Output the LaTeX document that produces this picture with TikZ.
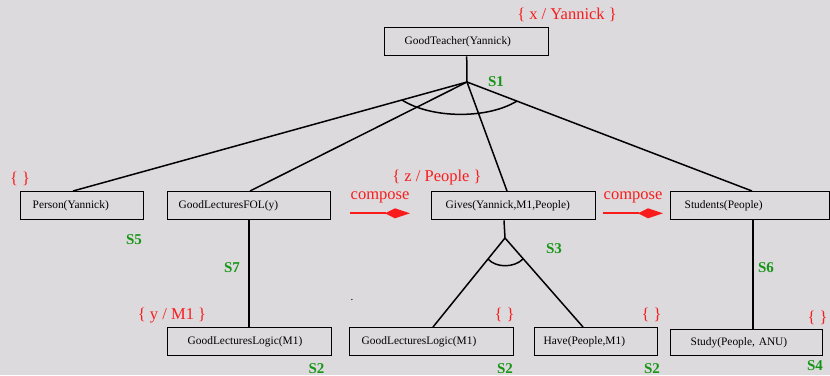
\documentclass[tikz,border=0pt]{standalone}
\usepackage{fontspec}
\setmainfont{Liberation Serif}
\definecolor{bg}{RGB}{220,218,221}
\definecolor{substred}{RGB}{250,28,28}
\definecolor{stepgreen}{RGB}{22,150,22}
\begin{document}
\begin{tikzpicture}[x=1pt,y=-1pt,
  box/.style={draw, line width=1.4pt, rectangle, anchor=north west,
    minimum height=28pt, inner ysep=0pt, align=left,
    font=\fontsize{11.4}{13}\selectfont},
  link/.style={line width=1.5pt},
  subst/.style={text=substred, font=\fontsize{16.5}{18}\selectfont},
  stepname/.style={text=stepgreen, font=\fontsize{15}{17}\selectfont\bfseries},
  compose/.style={draw=substred, line width=2pt},
  kite/.style={fill=substred}]
\fill[bg] (0,0) rectangle (830,375);
\useasboundingbox (0,0) rectangle (830,375);

% goal and sub-goals
\node[box, inner xsep=20pt, text width=124pt] (gt) at (384,27) {GoodTeacher(Yannick)};
\node[box, inner xsep=12pt, text width=99pt]  (person) at (20,191) {Person(Yannick)};
\node[box, inner xsep=11pt, text width=141pt] (fol) at (167,191) {GoodLecturesFOL(y)};
\node[box, inner xsep=14pt, text width=136pt] (gives) at (431,191) {Gives(Yannick,M1,People)};
\node[box, inner xsep=14pt, text width=131pt] (students) at (670,191) {Students(People)};
\node[box, inner xsep=20pt, text width=124pt] (gll1) at (167,327) {GoodLecturesLogic(M1)};
\node[box, inner xsep=12pt, text width=140pt] (gll2) at (349,327) {GoodLecturesLogic(M1)};
\node[box, inner xsep=9pt, text width=105pt]  (have) at (534,327) {Have(People,M1)};
\node[box, inner xsep=20pt, text width=112pt, minimum height=26pt] (study) at (670,329) {Study(People, ANU)};

% AND junctions
\coordinate (hub1) at (467,82);
\coordinate (hub2) at (505,238);

\draw[link] (gt.south) -- (hub1);
\draw[link] (hub1) -- ([xshift=53pt]person.north west);
\draw[link] (hub1) -- ([xshift=83pt]fol.north west);
\draw[link] (hub1) -- ([xshift=76pt]gives.north west);
\draw[link] (hub1) -- ([xshift=82pt]students.north west);
\draw[link] (402,100) .. controls (432,119) and (488,119) .. (517,101);

\draw[link] ([xshift=82pt]fol.south west) -- ([xshift=82pt]gll1.north west);
\draw[link] ([xshift=73pt]gives.south west) -- (hub2);
\draw[link] (hub2) -- ([xshift=84pt]gll2.north west);
\draw[link] (hub2) -- ([xshift=49pt]have.north west);
\draw[link] (488,259) .. controls (496,268) and (514,268) .. (523,259);
\draw[link] ([xshift=83pt]students.south west) -- ([xshift=83pt]study.north west);

% composition arrows with kite heads
\coordinate (c1a) at (350,213.3);
\coordinate (c1b) at (410,213.3);
\coordinate (c2a) at (603,213.3);
\coordinate (c2b) at (663,213.3);
\draw[compose] (c1a) -- ([xshift=-24pt]c1b);
\fill[kite] (c1b) -- ++(-15,-5) -- ++(-10,5) -- ++(10,5) -- cycle;
\draw[compose] (c2a) -- ([xshift=-24pt]c2b);
\fill[kite] (c2b) -- ++(-15,-5) -- ++(-10,5) -- ++(10,5) -- cycle;
\node[subst] (comp1) at (380,197) {compose};
\node[subst] (comp2) at (633,197) {compose};

% substitutions
\node[subst] (s-x) at (567,15) {\{ x / Yannick \}};
\node[subst] (s-person) at (20,179) {\{ \}};
\node[subst] (s-z) at (437,178) {\{ z / People \}};
\node[subst] (s-y) at (172,316) {\{ y / M1 \}};
\node[subst] (s-gll2) at (504.5,315) {\{ \}};
\node[subst] (s-have) at (651.5,315) {\{ \}};
\node[subst] (s-study) at (817.5,318) {\{ \}};

% step names
\node[stepname] (st1) at (496,82) {S1};
\node[stepname] (st5) at (134,240) {S5};
\node[stepname] (st7) at (232,268) {S7};
\node[stepname] (st3) at (554,249) {S3};
\node[stepname] (st6) at (766,268) {S6};
\node[stepname] (st2a) at (316.5,369) {S2};
\node[stepname] (st2b) at (505,369) {S2};
\node[stepname] (st2c) at (652,369) {S2};
\node[stepname] (st4) at (815,366) {S4};

\node[font=\fontsize{11}{12}\selectfont, inner sep=0pt] (dot) at (352,300) {.};
\end{tikzpicture}
\end{document}
